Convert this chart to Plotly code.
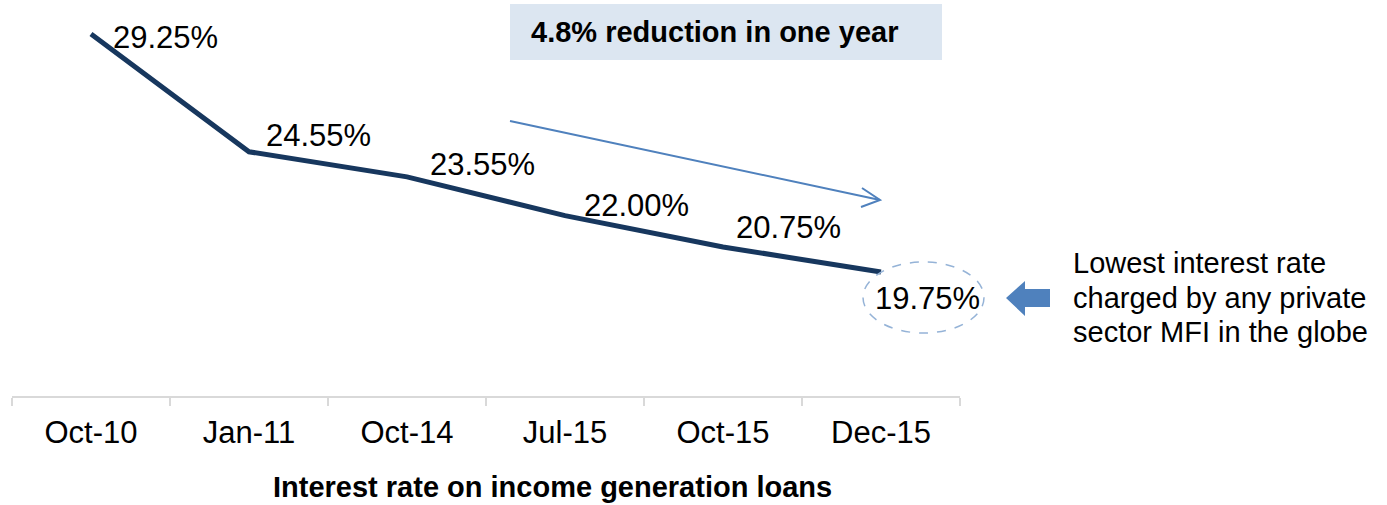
import plotly.graph_objects as go

# Interest rate on income generation loans, by period
periods = ["Oct-10", "Jan-11", "Oct-14", "Jul-15", "Oct-15", "Dec-15"]
rates = [29.25, 24.55, 23.55, 22.00, 20.75, 19.75]

headline = "4.8% reduction in one year"
axis_title = "Interest rate on income generation loans"
side_note = ["Lowest interest rate", "charged by any private", "sector MFI in the globe"]

# ---- layout geometry (pixels) ----
W, H = 1387, 505
PLOT_L, PLOT_R, PLOT_T, PLOT_B = 12, 960, 0, 396
FONT = "Arial, Liberation Sans, sans-serif"
LINE_COLOR = "#17375e"
ACCENT = "#4f81bd"


def px(x):
    return x / W


def py(y):
    return 1 - y / H


# value label offsets from each point (dx right, dy up), in pixels
label_dx = [20, 15, 21, 17, 11, -8]
label_dy = [-3, 16, 12, 10, 19, -26]

fig = go.Figure()
fig.add_trace(go.Scatter(
    x=periods, y=rates, mode="lines",
    line=dict(color=LINE_COLOR, width=5),
    hoverinfo="skip", showlegend=False, cliponaxis=False,
))

annotations = []
for p, r, dx, dy in zip(periods, rates, label_dx, label_dy):
    annotations.append(dict(
        x=p, y=r, xref="x", yref="y", text=f"{r:.2f}%", showarrow=False,
        xanchor="left", yanchor="middle", xshift=dx, yshift=dy,
        font=dict(family=FONT, size=31, color="#000000"),
    ))

# headline inside the shaded box
annotations.append(dict(
    x=px(529), y=py(32), xref="paper", yref="paper", text=f"<b>{headline}</b>",
    showarrow=False, xanchor="left", yanchor="middle",
    font=dict(family=FONT, size=29, color="#000000"),
))

# axis title
annotations.append(dict(
    x=px(552), y=py(487), xref="paper", yref="paper", text=f"<b>{axis_title}</b>",
    showarrow=False, xanchor="center", yanchor="middle",
    font=dict(family=FONT, size=29, color="#000000"),
))

# side note, one line per annotation
for i, line in enumerate(side_note):
    annotations.append(dict(
        x=px(1071), y=py(263 + 34.5 * i), xref="paper", yref="paper", text=line,
        showarrow=False, xanchor="left", yanchor="middle",
        font=dict(family=FONT, size=29, color="#000000"),
    ))

shapes = [
    # shaded headline box
    dict(type="rect", xref="paper", yref="paper",
         x0=px(510), x1=px(942), y0=py(60), y1=py(4),
         fillcolor="#dce6f1", line=dict(width=0), layer="below"),
    # thin trend arrow with open head
    dict(type="line", xref="paper", yref="paper",
         x0=px(510), y0=py(121), x1=px(880), y1=py(200),
         line=dict(color=ACCENT, width=2)),
    dict(type="path", xref="paper", yref="paper",
         path=f"M {px(862)},{py(188)} L {px(880)},{py(200)} L {px(861)},{py(207)}",
         line=dict(color=ACCENT, width=2)),
    # dashed ellipse around the lowest value
    dict(type="circle", xref="paper", yref="paper",
         x0=px(863), x1=px(984), y0=py(333), y1=py(262),
         line=dict(color="#95b3d7", width=1.5, dash="dash"), fillcolor="rgba(0,0,0,0)"),
    # block arrow pointing at the ellipse
    dict(type="path", xref="paper", yref="paper",
         path=(f"M {px(1006)},{py(298)} L {px(1025)},{py(281)} L {px(1025)},{py(289)} "
               f"L {px(1050)},{py(289)} L {px(1050)},{py(307)} L {px(1025)},{py(307)} "
               f"L {px(1025)},{py(316)} Z"),
         fillcolor=ACCENT, line=dict(width=0)),
]

fig.update_layout(
    width=W, height=H,
    margin=dict(l=0, r=0, t=0, b=0),
    paper_bgcolor="#ffffff", plot_bgcolor="#ffffff",
    showlegend=False,
    annotations=annotations,
    shapes=shapes,
    xaxis=dict(
        domain=[px(PLOT_L), px(PLOT_R)],
        type="category", range=[-0.5, len(periods) - 0.5],
        showline=True, linecolor="#d9d9d9", linewidth=2,
        ticks="outside", tickson="boundaries", ticklen=8,
        tickcolor="#d9d9d9", tickwidth=2,
        ticklabelstandoff=8,
        showgrid=False, zeroline=False, automargin=False,
        tickfont=dict(family=FONT, size=31, color="#000000"),
        fixedrange=True,
    ),
    yaxis=dict(
        domain=[py(PLOT_B), py(PLOT_T)],
        range=[14.80, 30.61], visible=False,
        showgrid=False, zeroline=False, fixedrange=True,
    ),
)

fig.write_html("out.html")
